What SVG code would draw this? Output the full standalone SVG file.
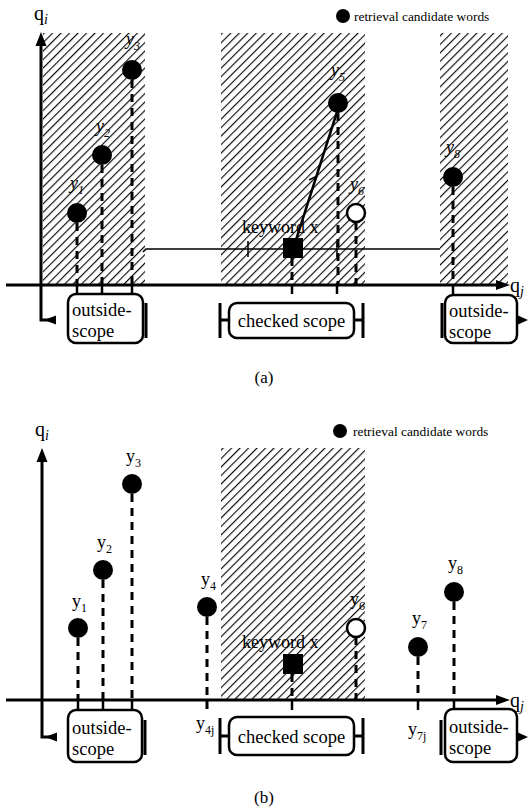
<svg xmlns="http://www.w3.org/2000/svg" width="528" height="807" viewBox="0 0 528 807">
<style>
text{font-family:"Liberation Serif","Times New Roman",serif;fill:#000}
.lbl{font-size:18px}
.sub{font-size:12px}
.box{fill:#fff;stroke:#000;stroke-width:2.5}
.axis{stroke:#000;stroke-width:3;fill:none}
.dash{stroke:#000;stroke-width:3;stroke-dasharray:8 6;fill:none}
.solid{stroke:#000;stroke-width:2.5;fill:none}
.thin{stroke:#000;stroke-width:1.5;fill:none}
.dot{fill:#000}
.odot{fill:#fff;stroke:#000;stroke-width:2.5}
</style>
<defs>
<pattern id="hatch" patternUnits="userSpaceOnUse" width="6" height="6" patternTransform="rotate(45)">
<line x1="0.6" y1="0" x2="0.6" y2="6" stroke="#000" stroke-width="1.1"/>
</pattern>
</defs>

<!-- ============ (a) ============ -->
<g id="a-hatch">
<rect x="43" y="33" width="102" height="252" fill="url(#hatch)"/>
<rect x="221" y="33" width="144" height="252" fill="url(#hatch)"/>
<rect x="440" y="33" width="68" height="252" fill="url(#hatch)"/>
</g>
<g id="a-legend">
<circle cx="343" cy="16" r="7" class="dot"/>
<text x="354" y="21" font-size="13.4">retrieval candidate words</text>
</g>
<g id="a-connectors">
<path class="axis" d="M41,44 V320 H54"/>
<polygon points="41,32 35.5,46 46.5,46"/>
<polygon points="44,320 56,315.5 56,324.5"/>
<path class="axis" d="M6,285 H498"/>
<polygon points="510,285 496,280 496,290"/>
<path class="axis" d="M517,320 H520"/>
<polygon points="528,320 518,315.5 518,324.5"/>
<path class="dash" d="M77,223 V285"/>
<path class="dash" d="M102,165 V285"/>
<path class="dash" d="M132,80 V285"/>
<path class="dash" d="M338,113 V285"/>
<path class="dash" d="M292,258 V285"/>
<path class="dash" d="M356,222 V285"/>
<path class="dash" d="M453,187 V285"/>
<path class="solid" d="M77,285 V294 M102,285 V294 M132,285 V294 M292,285 V294 M337,285 V294 M453,285 V295"/>
<path class="thin" d="M143,252 L146,249 H440 M248,241 V257 M337,241 V257"/>
<path class="solid" d="M296,240 L337,112"/>
<path class="thin" d="M309,180 L317,176"/>
<path class="axis" d="M146,303 V338 M220,303 V338 M220,320 H229 M363,303 V338 M353,320 H363 M442,303 V338"/>
</g>
<g id="a-y1"><circle cx="77" cy="213" r="10" class="dot"/><text x="70" y="189" class="lbl" font-style="italic">y<tspan class="sub" dy="5">1</tspan></text></g>
<g id="a-y2"><circle cx="102" cy="155" r="10" class="dot"/><text x="96" y="132" class="lbl" font-style="italic">y<tspan class="sub" dy="5">2</tspan></text></g>
<g id="a-y3"><circle cx="132" cy="70" r="10" class="dot"/><text x="126" y="45" class="lbl" font-style="italic">y<tspan class="sub" dy="5">3</tspan></text></g>
<g id="a-y5"><circle cx="338" cy="103" r="10" class="dot"/><text x="331" y="76" class="lbl" font-style="italic">y<tspan class="sub" dy="5">5</tspan></text></g>
<g id="a-y6"><circle cx="356" cy="213" r="9" class="odot"/><text x="350" y="190" class="lbl" font-style="italic">y<tspan class="sub" dy="5">6</tspan></text></g>
<g id="a-y8"><circle cx="453" cy="177" r="10" class="dot"/><text x="446" y="153" class="lbl" font-style="italic">y<tspan class="sub" dy="5">8</tspan></text></g>
<g id="a-keyword"><rect x="283" y="238" width="20" height="20" class="dot"/><text x="242" y="233" font-size="18">keyword x</text></g>
<g id="a-qi"><text x="34" y="20" font-size="20">q<tspan font-size="14" font-style="italic" dy="4">i</tspan></text></g>
<g id="a-qj"><text x="510" y="292" font-size="20">q<tspan font-size="14" font-style="italic" dy="4">j</tspan></text></g>
<g id="a-out-left"><rect x="68" y="294" width="75" height="49" rx="8" class="box"/><text x="72" y="316" font-size="18.5">outside-</text><text x="72" y="337" font-size="18.5">scope</text></g>
<g id="a-checked"><rect x="229" y="303" width="125" height="35" rx="8" class="box"/><text x="291.5" y="327" font-size="18.5" text-anchor="middle">checked scope</text></g>
<g id="a-out-right"><rect x="445" y="295" width="72" height="48" rx="8" class="box"/><text x="449" y="317" font-size="18.5">outside-</text><text x="449" y="338" font-size="18.5">scope</text></g>
<text x="264" y="383" font-size="17" text-anchor="middle">(a)</text>

<!-- ============ (b) ============ -->
<g id="b-hatch">
<rect x="221" y="448" width="144" height="252" fill="url(#hatch)"/>
</g>
<g id="b-legend">
<circle cx="340" cy="431" r="7" class="dot"/>
<text x="353" y="436" font-size="13.4">retrieval candidate words</text>
</g>
<g id="b-connectors">
<path class="axis" d="M42,460 V737 H55"/>
<polygon points="42,448 36.5,462 47.5,462"/>
<polygon points="45,737 57,732.5 57,741.5"/>
<path class="axis" d="M6,700 H498"/>
<polygon points="510,700 496,695 496,705"/>
<path class="axis" d="M517,737 H520"/>
<polygon points="528,737 518,732.5 518,741.5"/>
<path class="dash" d="M78,638 V700"/>
<path class="dash" d="M103,580 V700"/>
<path class="dash" d="M132,494 V700"/>
<path class="dash" d="M207,617 V713"/>
<path class="dash" d="M292,674 V700"/>
<path class="dash" d="M356,637 V700"/>
<path class="dash" d="M418,657 V700"/>
<path class="dash" d="M454,602 V700"/>
<path class="solid" d="M78,700 V710 M103,700 V710 M132,700 V710 M292,700 V710 M418,700 V710 M454,700 V710"/>
<path class="axis" d="M145,720 V755 M220,718 V754 M220,736 H229 M363,718 V754 M353,736 H363 M441,720 V755"/>
</g>
<g id="b-y1"><circle cx="78" cy="628" r="10" class="dot"/><text x="72" y="607" class="lbl">y<tspan class="sub" dy="5">1</tspan></text></g>
<g id="b-y2"><circle cx="103" cy="570" r="10" class="dot"/><text x="97" y="548" class="lbl">y<tspan class="sub" dy="5">2</tspan></text></g>
<g id="b-y3"><circle cx="132" cy="484" r="10" class="dot"/><text x="126" y="462" class="lbl">y<tspan class="sub" dy="5">3</tspan></text></g>
<g id="b-y4"><circle cx="207" cy="607" r="10" class="dot"/><text x="201" y="585" class="lbl">y<tspan class="sub" dy="5">4</tspan></text><text x="196" y="729" class="lbl">y<tspan class="sub" dy="5">4j</tspan></text></g>
<g id="b-y6"><circle cx="356" cy="628" r="9" class="odot"/><text x="350" y="605" class="lbl">y<tspan class="sub" dy="5">6</tspan></text></g>
<g id="b-y7"><circle cx="418" cy="647" r="10" class="dot"/><text x="412" y="624" class="lbl">y<tspan class="sub" dy="5">7</tspan></text><text x="408" y="735" class="lbl">y<tspan class="sub" dy="5">7j</tspan></text></g>
<g id="b-y8"><circle cx="454" cy="592" r="10" class="dot"/><text x="448" y="569" class="lbl">y<tspan class="sub" dy="5">8</tspan></text></g>
<g id="b-keyword"><rect x="283" y="654" width="20" height="20" class="dot"/><text x="242" y="648" font-size="18">keyword x</text></g>
<g id="b-qi"><text x="35" y="436" font-size="20">q<tspan font-size="14" font-style="italic" dy="4">i</tspan></text></g>
<g id="b-qj"><text x="510" y="707" font-size="20">q<tspan font-size="14" font-style="italic" dy="4">j</tspan></text></g>
<g id="b-out-left"><rect x="68" y="710" width="74" height="52" rx="8" class="box"/><text x="72" y="734" font-size="18.5">outside-</text><text x="72" y="755" font-size="18.5">scope</text></g>
<g id="b-checked"><rect x="229" y="717" width="125" height="38" rx="8" class="box"/><text x="291.5" y="743" font-size="18.5" text-anchor="middle">checked scope</text></g>
<g id="b-out-right"><rect x="445" y="709" width="72" height="53" rx="8" class="box"/><text x="449" y="733" font-size="18.5">outside-</text><text x="449" y="754" font-size="18.5">scope</text></g>
<text x="264" y="803" font-size="17" text-anchor="middle">(b)</text>
</svg>
